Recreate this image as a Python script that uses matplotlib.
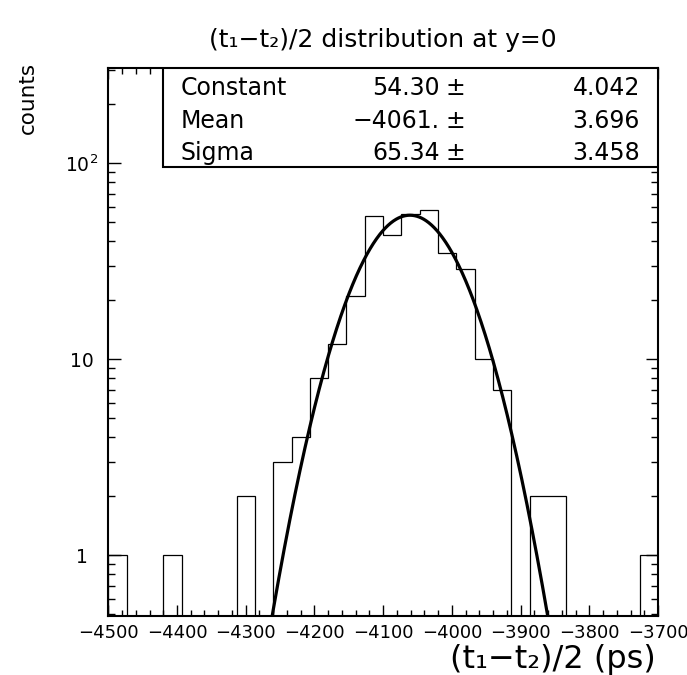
import matplotlib
matplotlib.use("Agg")
import matplotlib.pyplot as plt
import numpy as np
from matplotlib.patches import Rectangle
from matplotlib.ticker import MultipleLocator, LogLocator, FixedLocator, FixedFormatter, NullFormatter

# histogram: 30 bins between -4500 and -3700 ps
x_min, x_max, n_bins = -4500.0, -3700.0, 30
counts = [1, 0, 0, 1, 0, 0, 0, 2, 0, 3,
          4, 8, 12, 21, 54, 43, 55, 58, 35, 29,
          10, 7, 0, 2, 2, 0, 0, 0, 0, 1]

# gaussian fit results shown in the stats box
fit_names = ["Constant", "Mean", "Sigma"]
fit_values = ["54.30", "\u22124061.", "65.34"]
fit_errors = ["4.042", "3.696", "3.458"]
fit_const, fit_mean, fit_sigma = 54.30, -4061.0, 65.34

y_ticks = [1, 10, 100]
y_tick_labels = ["1", "10", "10$^2$"]
x_ticks = [-4500, -4400, -4300, -4200, -4100, -4000, -3900, -3800, -3700]

plt.rcParams["font.family"] = ["DejaVu Sans"]
plt.rcParams["mathtext.fontset"] = "dejavusans"

fig = plt.figure(figsize=(6.87, 6.75), dpi=100)
ax = fig.add_axes([0.1576, 0.0874, 0.8002, 0.8114])

edges = np.linspace(x_min, x_max, n_bins + 1)
ax.stairs(counts, edges, color="black", linewidth=0.9)

xs = np.linspace(x_min, x_max, 1200)
ax.plot(xs, fit_const * np.exp(-0.5 * ((xs - fit_mean) / fit_sigma) ** 2),
        color="black", linewidth=2.3, solid_capstyle="butt")

ax.set_yscale("log")
ax.set_xlim(x_min, x_max)
ax.set_ylim(0.49, 305)

ax.xaxis.set_major_locator(FixedLocator(x_ticks))
ax.xaxis.set_minor_locator(MultipleLocator(20))
ax.yaxis.set_major_locator(FixedLocator(y_ticks))
ax.yaxis.set_major_formatter(FixedFormatter(y_tick_labels))
ax.yaxis.set_minor_locator(LogLocator(base=10, subs=np.arange(2, 10)))
ax.yaxis.set_minor_formatter(NullFormatter())

ax.tick_params(which="both", direction="in", top=True, right=True, width=1.0, color="black")
ax.tick_params(axis="x", which="major", length=8, labelsize=13, pad=6)
ax.tick_params(axis="x", which="minor", length=4)
ax.tick_params(axis="y", which="major", length=9, labelsize=13.5, pad=19)
ax.tick_params(axis="y", which="minor", length=5)
for lbl in ax.get_yticklabels():
    lbl.set_horizontalalignment("center")
for sp in ax.spines.values():
    sp.set_linewidth(1.5)

# stats box in the top-right corner
box_left, box_bottom = 0.0993, 0.8193
ax.add_patch(Rectangle((box_left, box_bottom), 1 - box_left, 1 - box_bottom,
                       transform=ax.transAxes, facecolor="white", edgecolor="black",
                       linewidth=1.5, zorder=5))
row_y = [0.9513, 0.8905, 0.8326]
for name, val, err, y in zip(fit_names, fit_values, fit_errors, row_y):
    kw = dict(transform=ax.transAxes, fontsize=17, va="baseline", zorder=6)
    ax.text(0.1315, y, name, ha="left", **kw)
    ax.text(0.603, y, val, ha="right", **kw)
    ax.text(0.613, y, "\u00b1", ha="left", **kw)
    ax.text(0.967, y, err, ha="right", **kw)

fig.text(0.557, 0.930, "(t\u2081\u2212t\u2082)/2 distribution at y=0",
         ha="center", va="baseline", fontsize=18)
fig.text(0.955, 0.0104, "(t\u2081\u2212t\u2082)/2 (ps)", ha="right", va="baseline", fontsize=23)
fig.text(0.041, 0.908, "counts", rotation=90, ha="center", va="top", fontsize=15.5)

fig.savefig("out.png", dpi=100)
